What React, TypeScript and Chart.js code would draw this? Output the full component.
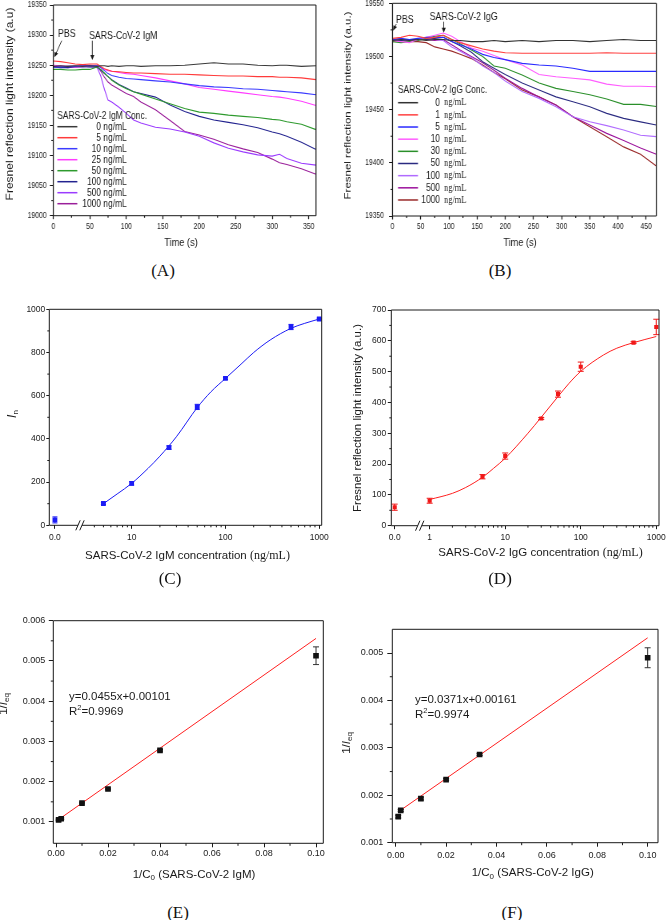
import React, { useEffect, useRef } from "react";
import { Chart, registerables } from "chart.js";

Chart.register(...registerables);

const SANS = '"Liberation Sans", Arial, Helvetica, sans-serif';
const SERIF = '"Liberation Serif", "Times New Roman", Times, serif';
const INK = "#1a1a1a";
const ROT = -Math.PI / 2;

/* ---------------- (A) SARS-CoV-2 IgM kinetics ---------------- */
const timeA = [0, 10, 20, 30, 40, 50, 60, 65, 70, 75, 80, 90, 100, 110, 120, 140, 160, 180, 200, 220, 240, 260, 280, 300, 310, 320, 340, 360];
const concA = ["0", "5", "10", "25", "50", "100", "500", "1000"];
const igm0 = [19248, 19249, 19248, 19249, 19248, 19249, 19248, 19249, 19249, 19248, 19249, 19248, 19249, 19249, 19248, 19249, 19249, 19250, 19252, 19254, 19252, 19252, 19250, 19249, 19250, 19250, 19248, 19249];
const igm5 = [19257, 19256, 19254, 19252, 19251, 19252, 19252, 19248, 19244, 19242, 19240, 19239, 19238, 19237, 19237, 19236, 19235, 19235, 19234, 19233, 19232, 19232, 19231, 19231, 19230, 19230, 19229, 19226];
const igm10 = [19247, 19247, 19248, 19248, 19249, 19249, 19249, 19246, 19241, 19236, 19233, 19230, 19228, 19227, 19226, 19224, 19222, 19219, 19216, 19214, 19213, 19211, 19210, 19208, 19207, 19206, 19204, 19201];
const igm25 = [19250, 19249, 19248, 19247, 19248, 19249, 19250, 19247, 19243, 19241, 19240, 19238, 19236, 19235, 19233, 19229, 19224, 19219, 19213, 19210, 19207, 19204, 19201, 19198, 19197, 19195, 19190, 19183];
const igm50 = [19243, 19243, 19242, 19242, 19243, 19243, 19247, 19243, 19237, 19231, 19225, 19217, 19211, 19206, 19202, 19194, 19186, 19178, 19172, 19170, 19167, 19165, 19163, 19160, 19159, 19156, 19152, 19143];
const igm100 = [19247, 19246, 19246, 19247, 19248, 19247, 19247, 19242, 19236, 19231, 19226, 19218, 19212, 19206, 19203, 19197, 19184, 19173, 19165, 19159, 19155, 19151, 19146, 19139, 19136, 19132, 19122, 19110];
const igm500 = [19248, 19247, 19246, 19247, 19247, 19248, 19246, 19232, 19210, 19192, 19189, 19180, 19170, 19159, 19154, 19147, 19144, 19139, 19132, 19121, 19112, 19106, 19101, 19099, 19102, 19095, 19087, 19084];
const igm1000 = [19247, 19247, 19248, 19248, 19249, 19250, 19249, 19240, 19230, 19222, 19217, 19210, 19203, 19198, 19189, 19176, 19158, 19140, 19134, 19127, 19118, 19111, 19105, 19094, 19088, 19085, 19078, 19069];
const seriesA = [igm0, igm5, igm10, igm25, igm50, igm100, igm500, igm1000];
const colorsA = ["#3a3a3a", "#ff3b3b", "#3b3bff", "#ff3bff", "#2e9a2e", "#23238f", "#9b3bff", "#9a1f9a"];
const yTicksA = [19000, 19050, 19100, 19150, 19200, 19250, 19300, 19350];
const yMinorA = [19025, 19075, 19125, 19175, 19225, 19275, 19325];
const xTicksA = [0, 50, 100, 150, 200, 250, 300, 350];
const xMinorA = [25, 75, 125, 175, 225, 275, 325];

/* ---------------- (B) SARS-CoV-2 IgG kinetics ---------------- */
const timeB = [0, 15, 30, 45, 60, 75, 90, 105, 120, 140, 160, 180, 200, 230, 260, 290, 320, 350, 380, 410, 440, 468];
const concB = ["0", "1", "5", "10", "30", "50", "100", "500", "1000"];
const igg0 = [19515, 19516, 19515, 19516, 19515, 19516, 19516, 19515, 19515, 19514, 19514, 19515, 19514, 19515, 19514, 19515, 19515, 19514, 19515, 19516, 19515, 19515];
const igg1 = [19517, 19518, 19520, 19519, 19517, 19518, 19520, 19516, 19513, 19510, 19507, 19505, 19503.5, 19503, 19503, 19503, 19503, 19503, 19503.5, 19503, 19503, 19503];
const igg5 = [19516, 19517, 19516, 19517, 19518, 19518, 19518, 19514, 19511, 19507, 19502, 19499, 19497, 19493.5, 19492, 19491, 19489, 19486, 19486, 19486, 19486, 19486];
const igg10 = [19515, 19514, 19513, 19516, 19518, 19520, 19522, 19519, 19514, 19508, 19505, 19501, 19497, 19492, 19483, 19481, 19479.5, 19478, 19474, 19472, 19472, 19471.5];
const igg30 = [19514, 19513, 19514, 19515, 19517, 19519, 19520, 19516, 19512, 19506, 19500, 19491, 19489, 19482.6, 19475, 19470, 19467, 19464, 19460, 19455, 19455, 19453];
const igg50 = [19515, 19515, 19516, 19516, 19516, 19517, 19518, 19514, 19510, 19504, 19495, 19489, 19483, 19475, 19468.5, 19462, 19457.5, 19452.8, 19446.5, 19441.8, 19438.5, 19435.6];
const igg100 = [19515, 19516, 19514, 19516, 19517, 19516, 19515, 19509, 19505, 19499, 19491, 19485, 19477, 19467, 19460.6, 19452.8, 19443.4, 19438.7, 19435, 19430.8, 19426, 19424.6];
const igg500 = [19516, 19516, 19515, 19516, 19516, 19515, 19516, 19511, 19506, 19500, 19494, 19487, 19479.5, 19470, 19462, 19454.4, 19443.4, 19435.6, 19427.7, 19421, 19414, 19408];
const igg1000 = [19514, 19515, 19514, 19514, 19513, 19509, 19507, 19505, 19502, 19498, 19492, 19485, 19479, 19468.5, 19462, 19454.4, 19443.4, 19434, 19424.6, 19415, 19408, 19397];
const seriesB = [igg0, igg1, igg5, igg10, igg30, igg50, igg100, igg500, igg1000];
const colorsB = ["#333333", "#ff4040", "#2a2aff", "#ff5cff", "#2a8f2a", "#2a2a80", "#b06bff", "#9b119b", "#9a2a2a"];
const yTicksB = [19350, 19400, 19450, 19500, 19550];
const yMinorB = [19375, 19425, 19475, 19525];
const xTicksB = [0, 50, 100, 150, 200, 250, 300, 350, 400, 450];
const xMinorB = [25, 75, 125, 175, 225, 275, 325, 375, 425];

/* ---------------- (C) IgM dose response ---------------- */
const concC = [0, 5, 10, 25, 50, 100, 500, 1000];
const signalC = [25, 101, 194, 360, 548, 680, 918, 955];
const errC = [14, 5, 8, 8, 12, 5, 12, 4];
const fitConcC = [5, 7, 10, 15, 20, 30, 50, 70, 100, 150, 200, 300, 500, 700, 1000];
const fitC = [100, 145, 194, 264, 320, 410, 545, 618, 680, 750, 800, 858, 912, 935, 955];
const xTickConcC = [0, 10, 100, 1000];
const xTickLabelsC = ["0.0", "10", "100", "1000"];
const xMinorConcC = [4, 5, 6, 7, 8, 9, 20, 30, 40, 50, 60, 70, 80, 90, 200, 300, 400, 500, 600, 700, 800, 900];
const yTicksC = [0, 200, 400, 600, 800, 1000];
const yMinorC = [100, 300, 500, 700, 900];

/* ---------------- (D) IgG dose response ---------------- */
const concD = [0, 1, 5, 10, 30, 50, 100, 500, 1000];
const signalD = [60, 81, 159, 226, 348, 427, 516, 594, 645];
const errD = [10, 8, 7, 10, 3, 10, 15, 3, 25];
const fitConcD = [1, 2, 3, 5, 7, 10, 20, 30, 50, 70, 100, 200, 300, 500, 1000];
const fitD = [85, 105, 124, 157, 186, 219, 300, 352, 419, 462, 501, 554, 576, 594, 614];
const xTickConcD = [0, 1, 10, 100, 1000];
const xTickLabelsD = ["0.0", "1", "10", "100", "1000"];
const xMinorConcD = [2, 3, 4, 5, 6, 7, 8, 9, 20, 30, 40, 50, 60, 70, 80, 90, 200, 300, 400, 500, 600, 700, 800, 900];
const yTicksD = [0, 100, 200, 300, 400, 500, 600, 700];
const yMinorD = [50, 150, 250, 350, 450, 550, 650];

/* ---------------- (E) IgM Langmuir ---------------- */
const invConcE = [0.001, 0.002, 0.01, 0.02, 0.04, 0.1];
const invIE = [0.00105, 0.00108, 0.00147, 0.00182, 0.00278, 0.00513];
const errE = [0.00002, 0.00002, 0.00002, 0.00002, 0.00002, 0.00022];
const fitXE = [0.001, 0.1];
const fitYE = [0.00106, 0.00556];
const xTicksEF = [0, 0.02, 0.04, 0.06, 0.08, 0.1];
const xLabelsEF = ["0.00", "0.02", "0.04", "0.06", "0.08", "0.10"];
const xMinorEF = [0.01, 0.03, 0.05, 0.07, 0.09];
const yTicksE = [0.001, 0.002, 0.003, 0.004, 0.005, 0.006];
const yLabelsE = ["0.001", "0.002", "0.003", "0.004", "0.005", "0.006"];
const yMinorE = [0.0015, 0.0025, 0.0035, 0.0045, 0.0055];

/* ---------------- (F) IgG Langmuir ---------------- */
const invConcF = [0.001, 0.002, 0.01, 0.02, 0.0333, 0.1];
const invIF = [0.00155, 0.00168, 0.00193, 0.00233, 0.00286, 0.0049];
const errF = [0.00003, 0.00002, 0.00003, 0.00002, 0.00002, 0.00021];
const fitXF = [0.001, 0.1];
const fitYF = [0.00165, 0.00532];
const yTicksF = [0.001, 0.002, 0.003, 0.004, 0.005];
const yLabelsF = ["0.001", "0.002", "0.003", "0.004", "0.005"];
const yMinorF = [0.0015, 0.0025, 0.0035, 0.0045];

/* ---------------- broken log axes ---------------- */
const ZERO_C = 0.182;
const BREAK_C = 0.449;
const ZERO_D = -0.463;
const BREAK_D = -0.132;
const uC = (c: number) => (c === 0 ? ZERO_C : Math.log10(c));
const uD = (c: number) => (c === 0 ? ZERO_D : Math.log10(c));

const BLUE = "#1c1cf5";
const RED = "#f01818";
const RED_LINE = "#ff2020";

type Run = { t: string; f: string; dy?: number };

function drawRuns(ctx: any, x: number, y: number, runs: Run[], align = "left", rot = 0) {
  ctx.save();
  ctx.translate(x, y);
  if (rot) ctx.rotate(rot);
  ctx.textBaseline = "middle";
  ctx.textAlign = "left";
  ctx.fillStyle = INK;
  const ws = runs.map((r) => {
    ctx.font = r.f;
    return ctx.measureText(r.t).width;
  });
  const total = ws.reduce((a, b) => a + b, 0);
  let cx = align === "center" ? -total / 2 : align === "right" ? -total : 0;
  runs.forEach((r, i) => {
    ctx.font = r.f;
    ctx.fillText(r.t, cx, r.dy || 0);
    cx += ws[i];
  });
  ctx.restore();
}

function decorPlugin(d: any) {
  const k = d.k;
  return {
    id: "decor",
    beforeDatasetsDraw(chart: any) {
      if (!d.errors) return;
      const { ctx } = chart;
      const xs = chart.scales.x;
      const ys = chart.scales.y;
      ctx.save();
      d.errors.forEach((e: any) => {
        const pts = chart.data.datasets[e.ds].data;
        ctx.strokeStyle = e.color;
        ctx.lineWidth = 1;
        pts.forEach((p: any, i: number) => {
          const px = xs.getPixelForValue(p.x);
          const y1 = ys.getPixelForValue(p.y - e.err[i]);
          const y2 = ys.getPixelForValue(p.y + e.err[i]);
          ctx.beginPath();
          ctx.moveTo(px, y1);
          ctx.lineTo(px, y2);
          ctx.moveTo(px - e.cap, y1);
          ctx.lineTo(px + e.cap, y1);
          ctx.moveTo(px - e.cap, y2);
          ctx.lineTo(px + e.cap, y2);
          ctx.stroke();
        });
      });
      ctx.restore();
    },
    afterDraw(chart: any) {
      const { ctx, chartArea: a } = chart;
      const xs = chart.scales.x;
      const ys = chart.scales.y;
      ctx.save();
      ctx.strokeStyle = INK;
      ctx.lineWidth = 1;
      ctx.beginPath();
      ctx.moveTo(a.left, a.top);
      ctx.lineTo(a.right, a.top);
      ctx.moveTo(a.left, a.bottom);
      ctx.lineTo(a.right, a.bottom);
      ctx.stroke();
      ctx.lineWidth = k;
      ctx.beginPath();
      ctx.moveTo(a.left, a.top);
      ctx.lineTo(a.left, a.bottom);
      ctx.moveTo(a.right, a.top);
      ctx.lineTo(a.right, a.bottom);
      (d.minorX || []).forEach((v: number) => {
        const px = xs.getPixelForValue(v);
        ctx.moveTo(px, a.bottom);
        ctx.lineTo(px, a.bottom + d.minorLen);
      });
      ctx.stroke();
      ctx.lineWidth = 1;
      ctx.beginPath();
      (d.minorY || []).forEach((v: number) => {
        const py = ys.getPixelForValue(v);
        ctx.moveTo(a.left, py);
        ctx.lineTo(a.left - d.minorLen * k, py);
      });
      ctx.stroke();
      if (d.breakX != null) {
        const bx = xs.getPixelForValue(d.breakX);
        ctx.fillStyle = "#fff";
        ctx.fillRect(bx - 2, a.bottom - 2, 4, 4);
        ctx.beginPath();
        [-2, 2].forEach((o) => {
          ctx.moveTo(bx + o - 2.2, a.bottom + 5);
          ctx.lineTo(bx + o + 2.2, a.bottom - 5);
        });
        ctx.stroke();
      }
      (d.arrows || []).forEach((ar: number[]) => {
        const [x1, y1, x2, y2] = ar;
        const dx = x2 - x1;
        const dy = y2 - y1;
        const len = Math.hypot(dx, dy);
        const ux = dx / len;
        const uy = dy / len;
        ctx.lineWidth = 0.9;
        ctx.beginPath();
        ctx.moveTo(x1 * k, y1);
        ctx.lineTo((x2 - ux * 3) * k, y2 - uy * 3);
        ctx.stroke();
        ctx.fillStyle = INK;
        ctx.beginPath();
        ctx.moveTo(x2 * k, y2);
        ctx.lineTo((x2 - ux * 5 - uy * 2) * k, y2 - uy * 5 + ux * 2);
        ctx.lineTo((x2 - ux * 5 + uy * 2) * k, y2 - uy * 5 - ux * 2);
        ctx.closePath();
        ctx.fill();
      });
      (d.texts || []).forEach((t: any) => drawRuns(ctx, t.x * k, t.y, t.runs, t.align || "left", t.rot || 0));
      if (d.legend) {
        const L = d.legend;
        drawRuns(ctx, L.x0 * k, L.titleY, [{ t: L.title, f: L.font }], "left");
        chart.data.datasets.forEach((ds: any, i: number) => {
          const y = L.rowY + i * L.dy;
          ctx.strokeStyle = ds.borderColor;
          ctx.lineWidth = L.lw;
          ctx.beginPath();
          ctx.moveTo(L.x0 * k, y);
          ctx.lineTo(L.x1 * k, y);
          ctx.stroke();
          drawRuns(ctx, L.numRight * k, y, [{ t: L.nums[i], f: L.font }], "right");
          if (L.unit) drawRuns(ctx, L.unitLeft * k, y, [{ t: L.unit, f: L.unitFont }], "left");
        });
      }
      ctx.restore();
    },
  };
}

function build(canvas: HTMLCanvasElement, s: any) {
  const k = s.iw / s.w;
  const axis = (ax: any, horizontal: boolean) => ({
    type: "linear",
    position: horizontal ? "bottom" : "left",
    min: ax.min,
    max: ax.max,
    afterBuildTicks: (sc: any) => {
      sc.ticks = ax.ticks.map((v: number) => ({ value: v }));
    },
    afterFit: (sc: any) => {
      if (horizontal) {
        sc.height = s.h - s.area.B;
        sc.paddingLeft = 0;
        sc.paddingRight = 0;
      } else {
        sc.width = s.area.L * k;
        sc.paddingTop = 0;
        sc.paddingBottom = 0;
      }
    },
    grid: {
      display: true,
      drawOnChartArea: false,
      drawTicks: true,
      tickLength: horizontal ? ax.tickLen : ax.tickLen * k,
      tickWidth: horizontal ? k : 1,
      tickColor: INK,
    },
    border: { display: false },
    ticks: {
      autoSkip: false,
      maxRotation: 0,
      minRotation: 0,
      padding: horizontal ? ax.pad : ax.pad * k,
      color: INK,
      font: { family: SANS, size: ax.font },
      callback: (_v: any, i: number) => ax.labels[i],
    },
    title: { display: false },
  });
  return new Chart(canvas, {
    type: "scatter",
    data: { datasets: s.datasets },
    options: {
      responsive: false,
      maintainAspectRatio: false,
      animation: false,
      devicePixelRatio: 1,
      events: [],
      layout: { padding: { left: 0, right: (s.w - s.area.R) * k, top: s.area.T, bottom: 0 } },
      plugins: { legend: { display: false }, tooltip: { enabled: false }, title: { display: false } },
      scales: { x: axis(s.x, true), y: axis(s.y, false) },
    } as any,
    plugins: [decorPlugin({ ...s.decor, k })],
  } as any);
}

const lineSet = (xs: number[], ys: number[], color: string, label: string) => ({
  label,
  data: xs.map((x, i) => ({ x, y: ys[i] })),
  showLine: true,
  borderColor: color,
  backgroundColor: color,
  borderWidth: 1.1,
  pointRadius: 0,
  tension: 0,
});

const pointSet = (xs: number[], ys: number[], color: string, r: number) => ({
  data: xs.map((x, i) => ({ x, y: ys[i] })),
  showLine: false,
  pointStyle: "rect",
  pointRadius: r,
  pointBackgroundColor: color,
  pointBorderColor: color,
  pointBorderWidth: 0,
});

const curveSet = (xs: number[], ys: number[], color: string) => ({
  data: xs.map((x, i) => ({ x, y: ys[i] })),
  showLine: true,
  borderColor: color,
  borderWidth: 1,
  pointRadius: 0,
  cubicInterpolationMode: "monotone",
});

const F = (size: number, fam = SANS, style = "") => `${style ? style + " " : ""}${size}px ${fam}`;

const PANELS: any[] = [
  {
    left: 0, top: 0, w: 333, h: 258, iw: 416,
    area: { L: 53.3, T: 5, R: 316, B: 215.7 },
    x: { min: 0, max: 360, ticks: xTicksA, labels: xTicksA.map(String), font: 8.5, tickLen: 3.5, pad: 2.4 },
    y: { min: 19000, max: 19350, ticks: yTicksA, labels: yTicksA.map(String), font: 8.5, tickLen: 3.5, pad: 3.2 },
    datasets: seriesA.map((v, i) => lineSet(timeA, v, colorsA[i], concA[i])),
    decor: {
      minorX: xMinorA, minorY: yMinorA, minorLen: 2,
      texts: [
        { x: 10, y: 104, rot: ROT, align: "center", runs: [{ t: "Fresnel reflection light intensity (a.u)", f: F(12) }] },
        { x: 181, y: 243, align: "center", runs: [{ t: "Time (s)", f: F(11.5) }] },
        { x: 58, y: 34, runs: [{ t: "PBS", f: F(11) }] },
        { x: 89, y: 36, runs: [{ t: "SARS-CoV-2 IgM", f: F(11) }] },
      ],
      arrows: [[61.7, 40.7, 54.3, 57.3], [92.3, 40.7, 92.3, 60]],
      legend: {
        title: "SARS-CoV-2 IgM Conc.", font: F(10.5), x0: 57.3, x1: 77.3, titleY: 116, rowY: 126.7, dy: 11,
        numRight: 126.7, nums: concA.map((c) => `${c} ng/mL`), lw: 1.5,
      },
    },
  },
  {
    left: 333, top: 0, w: 334, h: 258, iw: 418,
    area: { L: 59.5, T: 3.3, R: 323.3, B: 216 },
    x: { min: 0, max: 468, ticks: xTicksB, labels: xTicksB.map(String), font: 8.5, tickLen: 3.5, pad: 2.4 },
    y: { min: 19350, max: 19550, ticks: yTicksB, labels: yTicksB.map(String), font: 8.5, tickLen: 3.5, pad: 5 },
    datasets: seriesB.map((v, i) => lineSet(timeB, v, colorsB[i], concB[i])),
    decor: {
      minorX: xMinorB, minorY: yMinorB, minorLen: 2,
      texts: [
        { x: 15, y: 105.5, rot: ROT, align: "center", runs: [{ t: "Fresnel reflection light intensity (a.u.)", f: F(11.5) }] },
        { x: 187, y: 243.3, align: "center", runs: [{ t: "Time (s)", f: F(11.5) }] },
        { x: 63, y: 20, runs: [{ t: "PBS", f: F(11) }] },
        { x: 96.7, y: 16.7, runs: [{ t: "SARS-CoV-2 IgG", f: F(11) }] },
      ],
      arrows: [[63.3, 24, 60, 30.7], [110.7, 21.7, 110.7, 32.7]],
      legend: {
        title: "SARS-CoV-2 IgG Conc.", font: F(10.5), x0: 65, x1: 85, titleY: 90, rowY: 102.7, dy: 12.16,
        numRight: 107, unitLeft: 111, nums: concB, unit: "ng/mL", unitFont: F(10.5, SERIF), lw: 1.5,
      },
    },
  },
  {
    left: 0, top: 290, w: 333, h: 280, iw: 333,
    area: { L: 49.3, T: 19.3, R: 321.7, B: 235.3 },
    x: { min: 0.122, max: 3.026, ticks: xTickConcC.map(uC), labels: xTickLabelsC, font: 8.5, tickLen: 3.5, pad: 3.4 },
    y: { min: 0, max: 1000, ticks: yTicksC, labels: yTicksC.map(String), font: 8.5, tickLen: 3, pad: 1 },
    datasets: [
      pointSet(concC.map(uC), signalC, BLUE, 3.4),
      curveSet(fitConcC.map(uC), fitC, BLUE),
    ],
    decor: {
      minorX: xMinorConcC.map(uC), minorY: yMinorC, minorLen: 2, breakX: BREAK_C,
      errors: [{ ds: 0, err: errC, cap: 2.5, color: BLUE }],
      texts: [
        { x: 12.5, y: 124, rot: ROT, align: "center", runs: [{ t: "I", f: F(12, SANS, "italic") }, { t: "n", f: F(8), dy: 3 }] },
        { x: 187.5, y: 265.7, align: "center", runs: [{ t: "SARS-CoV-2 IgM concentration ", f: F(11.5) }, { t: "(ng/mL)", f: F(12, SERIF) }] },
      ],
    },
  },
  {
    left: 333, top: 290, w: 334, h: 280, iw: 334,
    area: { L: 58.3, T: 20, R: 326, B: 235.7 },
    x: { min: -0.508, max: 3.036, ticks: xTickConcD.map(uD), labels: xTickLabelsD, font: 8.5, tickLen: 3.5, pad: 3 },
    y: { min: 0, max: 700, ticks: yTicksD, labels: yTicksD.map(String), font: 8.5, tickLen: 3.5, pad: 1.5 },
    datasets: [
      pointSet(concD.map(uD), signalD, RED, 2.9),
      curveSet(fitConcD.map(uD), fitD, RED_LINE),
    ],
    decor: {
      minorX: xMinorConcD.map(uD), minorY: yMinorD, minorLen: 2, breakX: BREAK_D,
      errors: [{ ds: 0, err: errD, cap: 3, color: RED }],
      texts: [
        { x: 25, y: 128, rot: ROT, align: "center", runs: [{ t: "Fresnel reflection light intensity (a.u.)", f: F(11.5) }] },
        { x: 207.5, y: 263.3, align: "center", runs: [{ t: "SARS-CoV-2 IgG concentration ", f: F(11.5) }, { t: "(ng/mL)", f: F(12, SERIF) }] },
      ],
    },
  },
  {
    left: 0, top: 600, w: 333, h: 290, iw: 333,
    area: { L: 53.3, T: 20.7, R: 323.3, B: 243.3 },
    x: { min: -0.00104, max: 0.1028, ticks: xTicksEF, labels: xLabelsEF, font: 9, tickLen: 4, pad: 0.5 },
    y: { min: 0.00047, max: 0.006, ticks: yTicksE, labels: yLabelsE, font: 9, tickLen: 4.5, pad: 3.5 },
    datasets: [
      pointSet(invConcE, invIE, "#111111", 4),
      curveSet(fitXE, fitYE, RED_LINE),
    ],
    decor: {
      minorX: xMinorEF, minorY: yMinorE, minorLen: 2.5,
      errors: [{ ds: 0, err: errE, cap: 3, color: "#333333" }],
      texts: [
        { x: 4, y: 104, rot: ROT, align: "center", runs: [{ t: "1/", f: F(11.5) }, { t: "I", f: F(11.5, SANS, "italic") }, { t: "eq", f: F(8), dy: 3 }] },
        { x: 194, y: 275, align: "center", runs: [{ t: "1/C", f: F(11.5) }, { t: "0", f: F(8), dy: 3 }, { t: " (SARS-CoV-2 IgM)", f: F(11.5) }] },
        { x: 69, y: 97, runs: [{ t: "y=0.0455x+0.00101", f: F(11.5) }] },
        { x: 69, y: 112, runs: [{ t: "R", f: F(11.5) }, { t: "2", f: F(7.5), dy: -4 }, { t: "=0.9969", f: F(11.5) }] },
      ],
    },
  },
  {
    left: 333, top: 600, w: 334, h: 290, iw: 334,
    area: { L: 59.3, T: 29.3, R: 325, B: 242.7 },
    x: { min: -0.00135, max: 0.1041, ticks: xTicksEF, labels: xLabelsEF, font: 9, tickLen: 4, pad: 3 },
    y: { min: 0.001, max: 0.0055, ticks: yTicksF, labels: yLabelsF, font: 9, tickLen: 5, pad: 4 },
    datasets: [
      pointSet(invConcF, invIF, "#111111", 4),
      curveSet(fitXF, fitYF, RED_LINE),
    ],
    decor: {
      minorX: xMinorEF, minorY: yMinorF, minorLen: 2.5,
      errors: [{ ds: 0, err: errF, cap: 3, color: "#333333" }],
      texts: [
        { x: 14, y: 143, rot: ROT, align: "center", runs: [{ t: "1/", f: F(11.5) }, { t: "I", f: F(11.5, SANS, "italic") }, { t: "eq", f: F(8), dy: 3 }] },
        { x: 199.7, y: 273.3, align: "center", runs: [{ t: "1/C", f: F(11.5) }, { t: "0", f: F(8), dy: 3 }, { t: " (SARS-CoV-2 IgG)", f: F(11.5) }] },
        { x: 82, y: 100, runs: [{ t: "y=0.0371x+0.00161", f: F(11.5) }] },
        { x: 82, y: 115, runs: [{ t: "R", f: F(11.5) }, { t: "2", f: F(7.5), dy: -4 }, { t: "=0.9974", f: F(11.5) }] },
      ],
    },
  },
];

const PANEL_LABELS = [
  { t: "(A)", x: 163, y: 270 },
  { t: "(B)", x: 500, y: 270 },
  { t: "(C)", x: 170, y: 578 },
  { t: "(D)", x: 500, y: 578 },
  { t: "(E)", x: 178, y: 912 },
  { t: "(F)", x: 512, y: 912 },
];

export default function App() {
  const refs = useRef<(HTMLCanvasElement | null)[]>([]);
  useEffect(() => {
    const charts = PANELS.map((p, i) => build(refs.current[i] as HTMLCanvasElement, p));
    return () => charts.forEach((c) => c.destroy());
  }, []);
  return (
    <div style={{ position: "absolute", left: 0, top: 0, width: 667, height: 920, background: "#fff", overflow: "hidden" }}>
      {PANELS.map((p, i) => (
        <canvas
          key={i}
          ref={(el) => {
            refs.current[i] = el;
          }}
          width={p.iw}
          height={p.h}
          style={{ position: "absolute", left: p.left, top: p.top, width: p.w, height: p.h }}
        />
      ))}
      {PANEL_LABELS.map((l) => (
        <div
          key={l.t}
          style={{
            position: "absolute",
            left: l.x,
            top: l.y,
            transform: "translate(-50%, -50%)",
            fontFamily: SERIF,
            fontSize: 17,
            lineHeight: "17px",
            color: "#111",
            whiteSpace: "nowrap",
          }}
        >
          {l.t}
        </div>
      ))}
    </div>
  );
}
